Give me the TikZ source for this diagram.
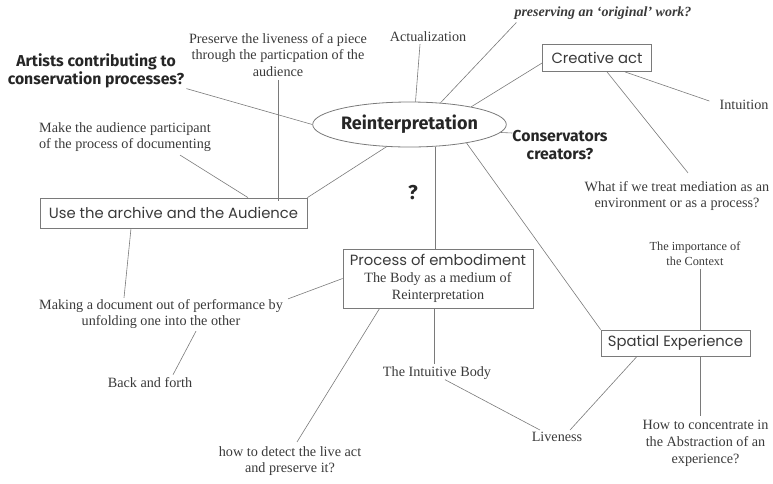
\documentclass[tikz,border=0pt]{standalone}
\usepackage{fontspec}
\setmainfont{Liberation Serif}
\newfontfamily\geo{Poppins}
\newfontfamily\heavy{Fira Sans}
\usetikzlibrary{shapes.geometric}
\definecolor{ink}{HTML}{3A3A3A}
\definecolor{wire}{HTML}{7A7A7A}
\begin{document}
\begin{tikzpicture}[x=1pt,y=-1pt,
  serif/.style={font=\fontsize{14.2}{16.8}\selectfont, align=center, text=ink, inner sep=0pt},
  small/.style={serif, font=\fontsize{12.3}{15}\selectfont},
  boxnode/.style={draw=wire, line width=0.8pt, font=\geo\fontsize{14.8}{17}\selectfont, text=ink, minimum height=27pt, inner sep=3pt},
  heavytext/.style={font=\heavy\bfseries\fontsize{15.8}{18.5}\selectfont, align=center, inner sep=0pt, text=black!85},
  link/.style={draw=wire, line width=0.6pt}]
\useasboundingbox (0,0) rectangle (773,483);

% nodes
\node[ellipse, draw=wire, line width=0.8pt, minimum width=169pt, minimum height=45pt, inner sep=0pt,
      font=\heavy\bfseries\fontsize{18}{20}\selectfont, text=black!85] (re) at (409.5,124.5) {Reinterpretation};
\node[serif] (act) at (428,37) {Actualization};
\node[serif, font=\bfseries\itshape\fontsize{14}{16}\selectfont] (orig) at (603,13) {preserving an `original' work?};
\node[boxnode, minimum width=109pt] (ca) at (597,58) {Creative act};
\node[serif] (int) at (744,105) {Intuition};
\node[heavytext] (cons) at (560,145) {Conservators\\creators?};
\node[serif] (what) at (677,196) {What if we treat mediation as an\\environment or as a process?};
\node[small] (ctx) at (695,254) {The importance of\\the Context};
\node[boxnode, minimum width=149pt, minimum height=26pt] (sp) at (675.5,343) {Spatial Experience};
\node[serif] (how) at (705.5,443) {How to concentrate in\\the Abstraction of an\\experience?};
\node[serif] (live) at (557,437) {Liveness};
\node[serif] (ib) at (437,373) {The Intuitive Body};
\node[draw=wire, line width=0.8pt, minimum width=190pt, minimum height=59pt, serif, inner sep=2pt] (pe) at (438,278.5)
  {{\geo\fontsize{14.8}{17}\selectfont Process of embodiment}\\The Body as a medium of\\Reinterpretation};
\node[heavytext, font=\heavy\bfseries\fontsize{20}{22}\selectfont] (qm) at (413,193) {?};
\node[boxnode, minimum width=267pt, minimum height=30pt] (ua) at (173.5,213) {Use the archive and the Audience};
\node[serif] (mk) at (161,314) {Making a document out of performance by\\unfolding one into the other};
\node[serif] (bf) at (150,383) {Back and forth};
\node[serif] (det) at (290,461) {how to detect the live act\\and preserve it?};
\node[serif] (mad) at (125,137) {Make the audience participant\\of the process of documenting};
\node[serif] (pres) at (278,55) {Preserve the liveness of a piece\\through the particpation of the\\audience};
\node[heavytext] (art) at (96,71) {Artists contributing to\\conservation processes?};

% connectors
\draw[link] ([xshift=2pt]art.south east) -- (re.west);
\draw[link] ([yshift=-3pt]pres.south) -- ([yshift=-3pt]pres.south |- ua.north);
\draw[link] ([xshift=55pt,yshift=-3pt]mad.south) -- ([xshift=74.5pt]ua.north);
\draw[link] (ua.north east) -- (re.224);
\draw[link] ([xshift=-8pt,yshift=-2pt]act.south) -- ([xshift=6pt]re.north);
\draw[link] ([xshift=2pt,yshift=-3pt]orig.south west) -- (re.35);
\draw[link] ([yshift=-5pt]ca.west) -- (re.16);
\draw[link] (re.-5) -- ([yshift=12pt]cons.west);
\draw[link] ([xshift=-3pt]pe.north) -- ([xshift=-3pt]pe.north |- re.south);
\draw[link] (re.-18) -- (sp.north west);
\draw[link] ([xshift=10pt]ca.south) -- ([xshift=11pt,yshift=8pt]what.north);
\draw[link] ([xshift=28pt]ca.south) -- ([xshift=-10pt,yshift=4pt]int.west);
\draw[link] ([xshift=5pt,yshift=-3pt]ctx.south) -- ([xshift=5pt]ctx.south |- sp.north);
\draw[link] ([xshift=24.5pt]sp.south) -- ([xshift=-5.5pt,yshift=4pt]how.north);
\draw[link] ([xshift=-38.5pt]sp.south) -- ([xshift=13pt,yshift=2pt]live.north);
\draw[link] ([xshift=8pt]ib.south) -- ([xshift=-17pt,yshift=2pt]live.north);
\draw[link] ([xshift=-4pt]pe.south) -- ([xshift=-4pt,yshift=2pt]pe.south |- ib.north);
\draw[link] ([xshift=37pt]pe.south west) -- ([xshift=7pt,yshift=4pt]det.north);
\draw[link] (pe.west) -- ([xshift=5pt]mk.north east);
\draw[link] ([xshift=-42.5pt]ua.south) -- ([xshift=-37pt,yshift=1pt]mk.north);
\draw[link] ([xshift=35pt,yshift=-2pt]mk.south) -- ([xshift=23pt,yshift=3pt]bf.north);
\end{tikzpicture}
\end{document}
